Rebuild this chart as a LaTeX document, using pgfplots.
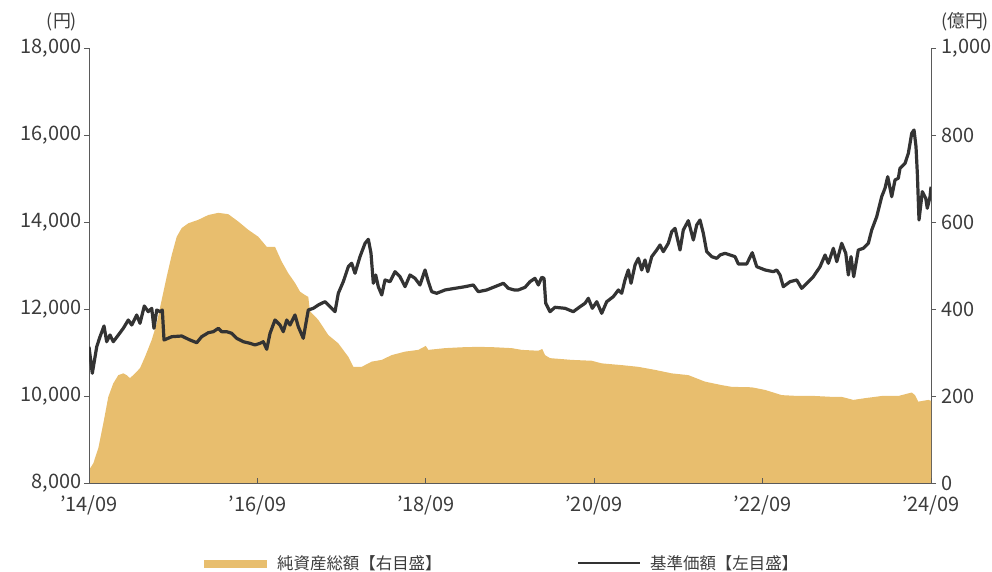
\documentclass[border=0pt]{standalone}
\usepackage{pgfplots}
\pgfplotsset{compat=1.18}
\usepackage{fontspec}
\setmainfont{Noto Sans CJK JP}
\definecolor{tanc}{HTML}{E8BE6E}
\definecolor{linec}{HTML}{333333}
\definecolor{axc}{HTML}{5A5A5A}
\definecolor{txc}{HTML}{3C3C3C}
\begin{document}
\begin{tikzpicture}[x=1bp,y=1bp]
\useasboundingbox (0,0) rectangle (992,572);
% right axis: net assets (area)
\begin{axis}[
  at={(89bp,89bp)}, anchor=south west,
  width=842bp, height=435bp, scale only axis,
  xmin=0, xmax=120, ymin=0, ymax=1000,
  axis x line=none,
  axis y line*=right,
  ytick={0,200,...,1000},
  tick align=outside, major tick length=5bp,
  y axis line style={draw=axc, line width=0.9bp},
  ytick style={draw=axc, line width=0.9bp},
  yticklabel style={font=\fontsize{20}{20}\selectfont, text=txc, xshift=2bp},
  /pgf/number format/assume math mode=true,
  /pgf/number format/1000 sep={,},
  scaled y ticks=false,
  clip=false,
]
\addplot[fill=tanc, draw=none] coordinates {
(0,30) (0.61,45) (1.33,80) (2.04,137) (2.75,198) (3.46,229) (4.18,248) (4.89,252)
(5.37,248) (5.84,241) (6.56,252) (7.27,264) (7.98,290) (8.94,329) (9.65,367)
(10.36,421) (11.07,474) (11.79,524) (12.50,566) (13.21,586) (14.15,597) (15.58,605)
(17.00,616) (18.43,621) (19.85,618) (21.28,601) (22.70,582) (24.13,566) (25.33,543)
(26.51,543) (27.46,509) (28.41,482) (29.36,460) (30.07,440) (30.78,432) (31.25,428)
(31.49,395) (32.68,375) (34.11,340) (35.53,321) (36.96,290) (37.67,267) (38.86,267)
(40.29,279) (41.72,283) (43.14,294) (45.04,302) (46.93,306) (47.99,315) (48.36,306)
(50.74,310) (53.12,312) (55.48,313) (57.86,312) (60.24,310) (61.67,306) (64.04,304)
(64.60,308) (64.99,294) (65.70,287) (68.79,283) (71.64,281) (73.07,275) (75.92,271)
(78.29,267) (80.67,260) (83.05,252) (85.41,248) (87.79,233) (90.17,225) (91.59,221)
(94.44,220) (96.34,214) (98.72,202) (101.09,200) (103.47,200) (105.85,198) (107.27,198)
(108.93,191) (110.59,195) (112.97,200) (115.34,200) (117.25,208) (117.72,202)
(118.19,187) (119.62,191) (120,189)
} \closedcycle;
\end{axis}
% left axis: NAV (line) and x axis
\begin{axis}[
  at={(89bp,89bp)}, anchor=south west,
  width=842bp, height=435bp, scale only axis,
  xmin=0, xmax=120, ymin=8000, ymax=18000,
  axis x line*=bottom, axis y line*=left,
  xtick={0,24,...,120},
  xticklabels={’14/09,’16/09,’18/09,’20/09,’22/09,’24/09},
  ytick={8000,10000,...,18000},
  tick align=inside, major tick length=5bp,
  ytick style={draw=axc, line width=0.9bp, xshift=-5bp},
  xtick style={draw=axc, line width=0.9bp},
  axis line style={draw=axc, line width=0.9bp},
  yticklabel style={font=\fontsize{20}{20}\selectfont, text=txc, xshift=-4bp},
  xticklabel style={font=\fontsize{20}{20}\selectfont, text=txc, yshift=-9bp},
  /pgf/number format/assume math mode=true,
  /pgf/number format/1000 sep={,},
  scaled y ticks=false,
]
\addplot[draw=linec, line width=3.2bp, line join=round] coordinates {
(0,11133) (0.47,10522) (1.10,11133) (1.57,11363) (2.14,11609) (2.52,11248) (2.99,11402)
(3.46,11248) (4.18,11402) (4.89,11556) (5.60,11747) (6.09,11632) (6.80,11862) (7.27,11671)
(7.88,12069) (8.45,11938) (8.94,12016) (9.26,11556) (9.65,11977) (10.12,11938) (10.45,11977)
(10.69,11287) (11.79,11363) (13.21,11379) (14.39,11287) (15.35,11225) (16.06,11363)
(17.00,11455) (17.72,11478) (18.43,11556) (18.91,11478) (19.63,11478) (20.34,11441)
(21.05,11326) (21.99,11248) (22.95,11211) (23.66,11173) (24.37,11211) (24.84,11248)
(25.33,11074) (25.80,11441) (26.51,11747) (27.22,11632) (27.69,11478) (28.18,11747)
(28.65,11632) (29.36,11862) (29.83,11593) (30.54,11326) (31.25,11977) (31.97,12016)
(32.68,12092) (33.63,12168) (34.35,12053) (35.06,11938) (35.53,12361) (36.24,12628)
(36.96,12973) (37.44,13051) (37.91,12821) (38.62,13203) (39.34,13510) (39.81,13602)
(40.19,13281) (40.52,12591) (40.86,12782) (41.23,12513) (41.72,12322) (42.19,12667)
(42.90,12628) (43.61,12858) (44.32,12743) (45.04,12513) (45.75,12782) (46.46,12705)
(47.17,12552) (47.89,12897) (48.36,12628) (48.84,12398) (49.55,12361) (50.74,12437)
(52.16,12475) (53.59,12513) (54.77,12552) (55.48,12398) (56.68,12437) (57.86,12513)
(59.05,12591) (59.76,12475) (60.61,12437) (61.18,12437) (62.14,12498) (62.85,12628)
(63.56,12705) (64.04,12552) (64.52,12728) (64.85,12705) (65.09,12131) (65.70,11938)
(66.41,12039) (67.84,12016) (69.02,11938) (69.98,12053) (70.69,12131) (71.16,12246)
(71.73,12016) (72.36,12168) (73.07,11901) (73.78,12168) (74.72,12283) (75.44,12437)
(75.92,12361) (76.39,12667) (76.86,12897) (77.25,12591) (77.82,13012) (78.29,13165)
(78.77,12897) (79.24,13127) (79.63,12858) (80.20,13203) (80.91,13356) (81.38,13471)
(81.85,13318) (82.56,13510) (83.05,13777) (83.52,13855) (84.23,13356) (84.70,13816)
(85.41,14030) (86.13,13586) (86.61,13931) (87.08,14046) (87.55,13740) (88.03,13318)
(88.75,13203) (89.46,13165) (89.93,13241) (90.64,13280) (92.07,13203) (92.54,13035)
(93.73,13035) (94.53,13294) (95.16,12973) (96.34,12897) (97.53,12858) (98.01,12897)
(98.48,12782) (98.95,12513) (99.91,12628) (100.86,12667) (101.57,12475) (102.29,12591)
(103.23,12743) (104.19,12973) (104.90,13241) (105.37,13051) (106.08,13395) (106.57,13088)
(107.27,13510) (107.85,13280) (108.22,12782) (108.60,13203) (108.98,12743) (109.64,13356)
(110.35,13395) (111.07,13510) (111.55,13816) (112.26,14122) (112.97,14582) (113.44,14774)
(113.83,15041) (114.40,14582) (114.87,14966) (115.34,15005) (115.58,15234) (116.30,15349)
(116.77,15579) (117.25,16039) (117.58,16115) (117.86,15731) (118.05,15119) (118.29,14046)
(118.76,14697) (119.25,14544) (119.47,14315) (119.86,14582) (120,14812)
};
\end{axis}
\node[text=txc, font=\fontsize{18}{18}\selectfont] at (62,550) {(円)};
\node[text=txc, font=\fontsize{18}{18}\selectfont] at (965,550) {(億円)};
% legend
\fill[tanc] (204,4) rectangle (267,12);
\node[anchor=west, inner sep=0pt, text=txc, font=\fontsize{16.5}{16.5}\selectfont] at (277,8.5) {純資産総額【右目盛】};
\draw[linec, line width=2.8bp] (578,9) -- (640,9);
\node[anchor=west, inner sep=0pt, text=txc, font=\fontsize{16.5}{16.5}\selectfont] at (650,8.5) {基準価額【左目盛】};
\end{tikzpicture}
\end{document}
